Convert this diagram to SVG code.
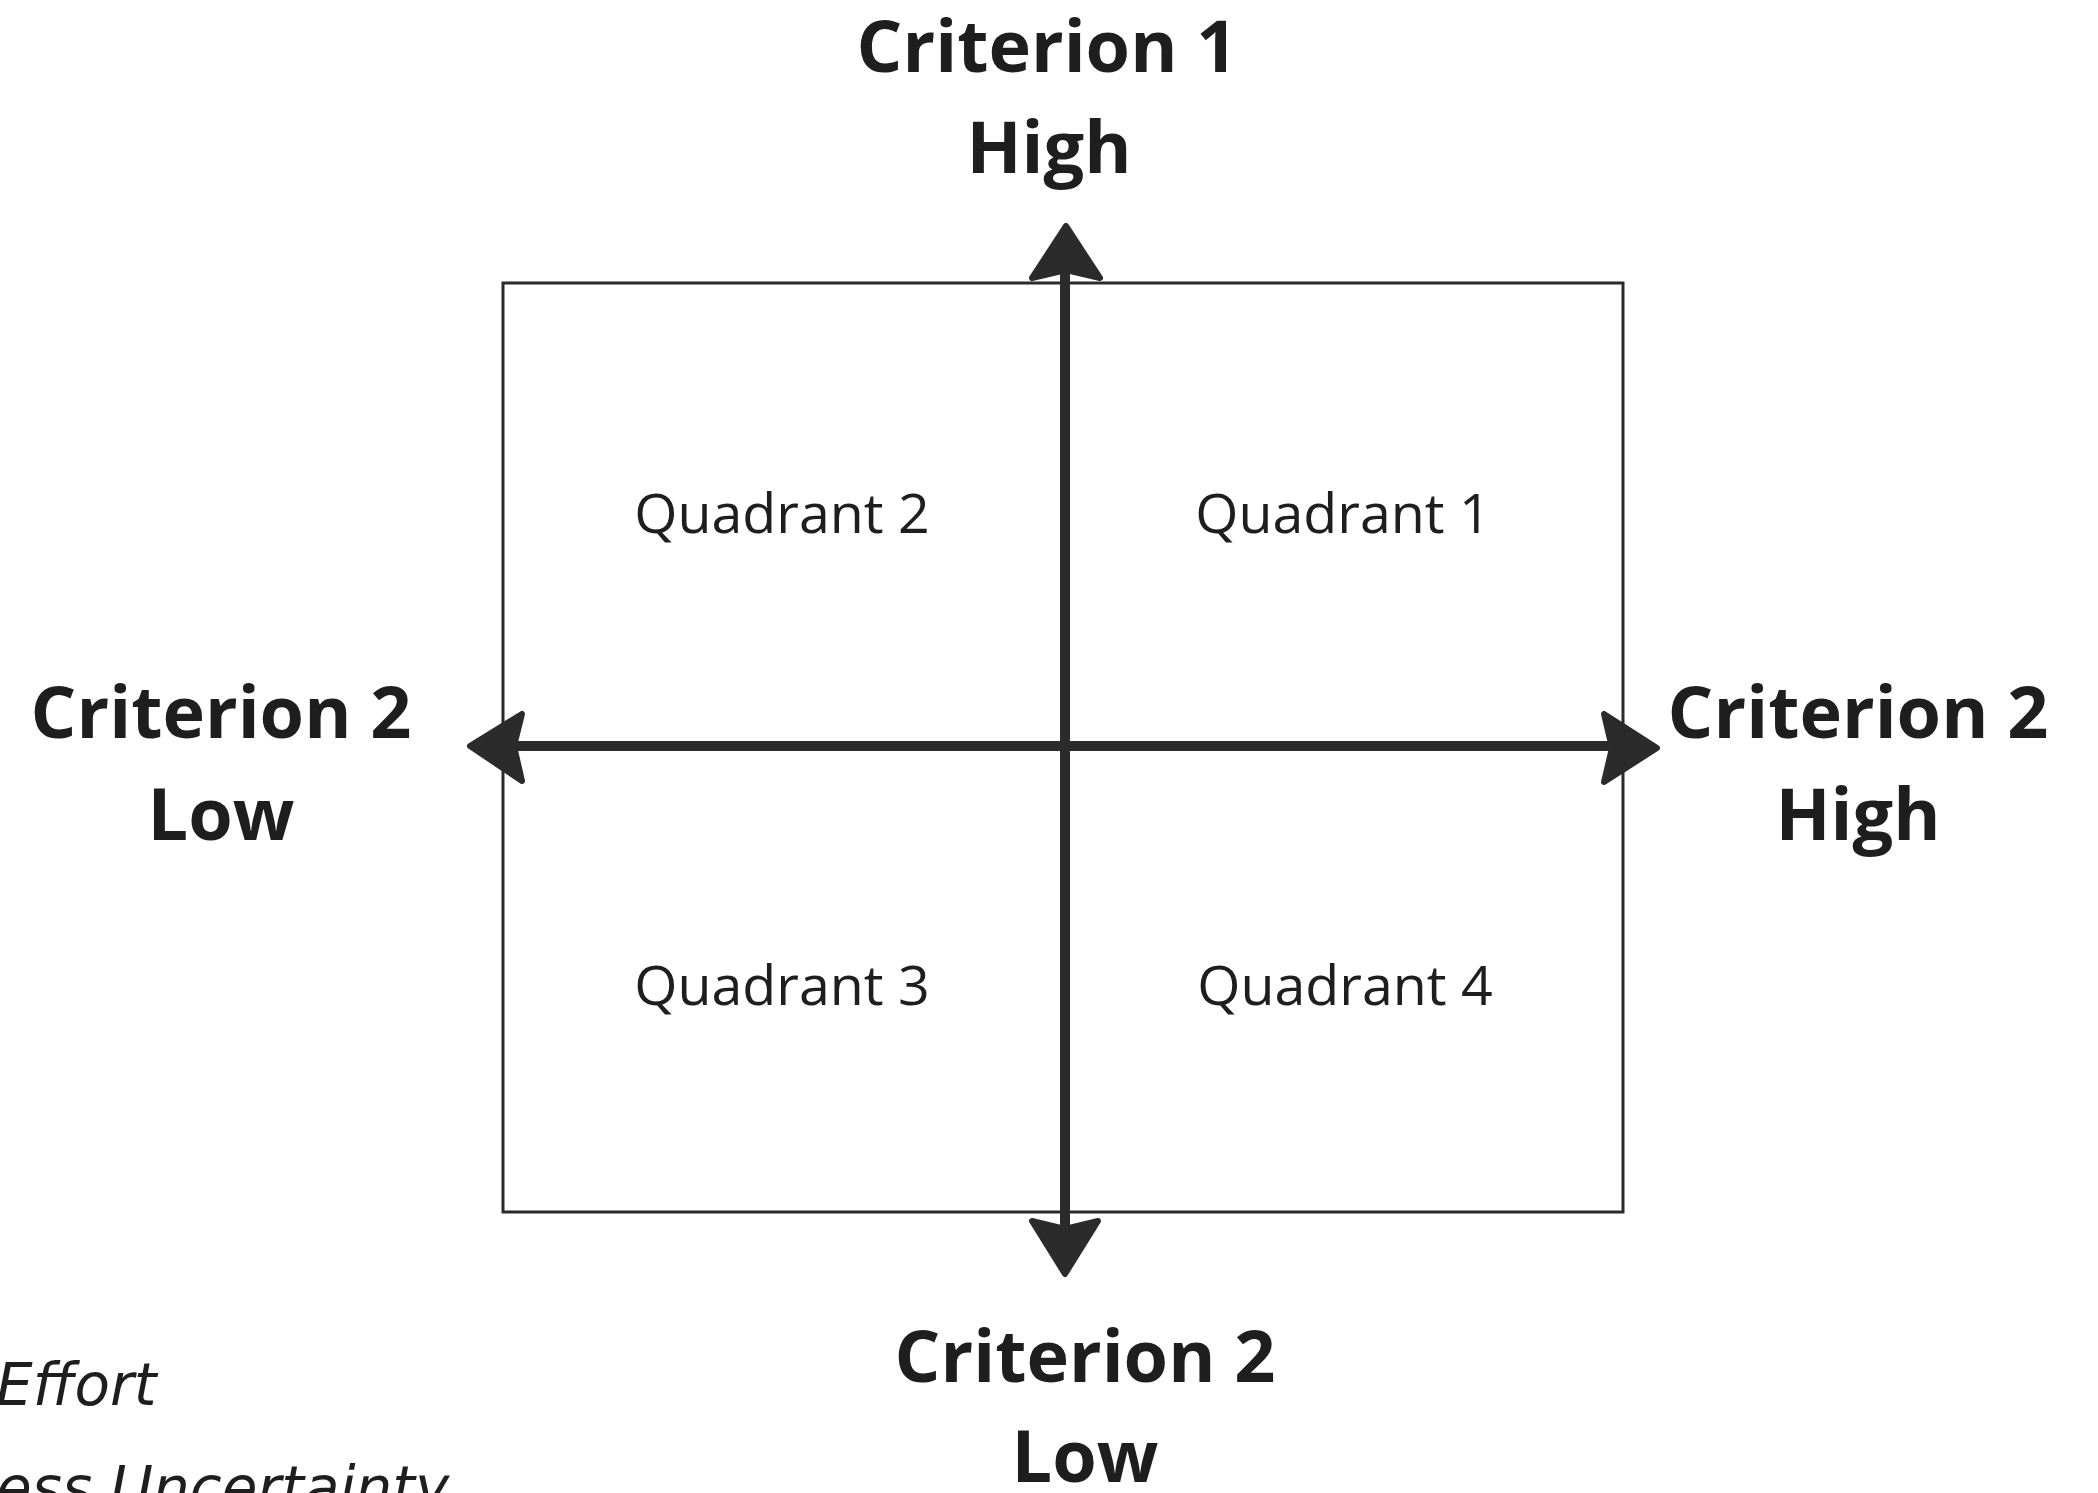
<svg xmlns="http://www.w3.org/2000/svg" width="2098" height="1493" viewBox="0 0 2098 1493">
  <style>
    .axis-label { font-family: "Open Sans", "Liberation Sans", sans-serif; font-weight: 700; font-size: 72px; fill: #1e1e1e; text-anchor: middle; }
    .quad { font-family: "Open Sans", "Liberation Sans", sans-serif; font-weight: 400; font-size: 55.5px; fill: #1e1e1e; text-anchor: middle; }
    .hand { font-family: "DejaVu Sans", "Liberation Sans", sans-serif; font-style: italic; font-size: 58px; fill: #1e1e1e; }
    .axis { stroke: #2b2b2b; stroke-width: 10; fill: none; }
    .head { fill: #2b2b2b; stroke: #2b2b2b; stroke-width: 6; stroke-linejoin: round; }
    .frame { fill: none; stroke: #2b2b2b; stroke-width: 3; }
  </style>
  <rect width="2098" height="1493" fill="#ffffff"/>

  <g id="matrix-frame">
    <rect class="frame" x="503" y="283" width="1120" height="929"/>
  </g>

  <g id="quadrant-2"><text class="quad" x="782" y="533">Quadrant 2</text></g>
  <g id="quadrant-1"><text class="quad" x="1343" y="533">Quadrant 1</text></g>
  <g id="quadrant-3"><text class="quad" x="782" y="1005">Quadrant 3</text></g>
  <g id="quadrant-4"><text class="quad" x="1345" y="1005">Quadrant 4</text></g>

  <g id="connectors">
    <line class="axis" x1="1065" y1="272" x2="1065" y2="1226"/>
    <line class="axis" x1="512" y1="746" x2="1612" y2="746"/>
    <path class="head" d="M1066,226 L1100,278 L1066,270 L1032,278 Z"/>
    <path class="head" d="M1065,1274 L1032,1221 L1065,1229 L1098,1221 Z"/>
    <path class="head" d="M470,746 L522,714 L514,746 L522,781 Z"/>
    <path class="head" d="M1657,748 L1604,714 L1612,748 L1604,782 Z"/>
  </g>

  <g id="label-top">
    <text class="axis-label" x="1047" y="72">Criterion 1</text>
    <text class="axis-label" x="1049" y="173">High</text>
  </g>
  <g id="label-left">
    <text class="axis-label" x="221" y="738">Criterion 2</text>
    <text class="axis-label" x="221" y="840">Low</text>
  </g>
  <g id="label-right">
    <text class="axis-label" x="1858" y="738">Criterion 2</text>
    <text class="axis-label" x="1858" y="840">High</text>
  </g>
  <g id="label-bottom">
    <text class="axis-label" x="1085" y="1382">Criterion 2</text>
    <text class="axis-label" x="1085" y="1482">Low</text>
  </g>

  <g id="note">
    <text class="hand" x="-4" y="1405">Effort</text>
    <text class="hand" x="-4" y="1508">ess Uncertainty</text>
  </g>
</svg>
